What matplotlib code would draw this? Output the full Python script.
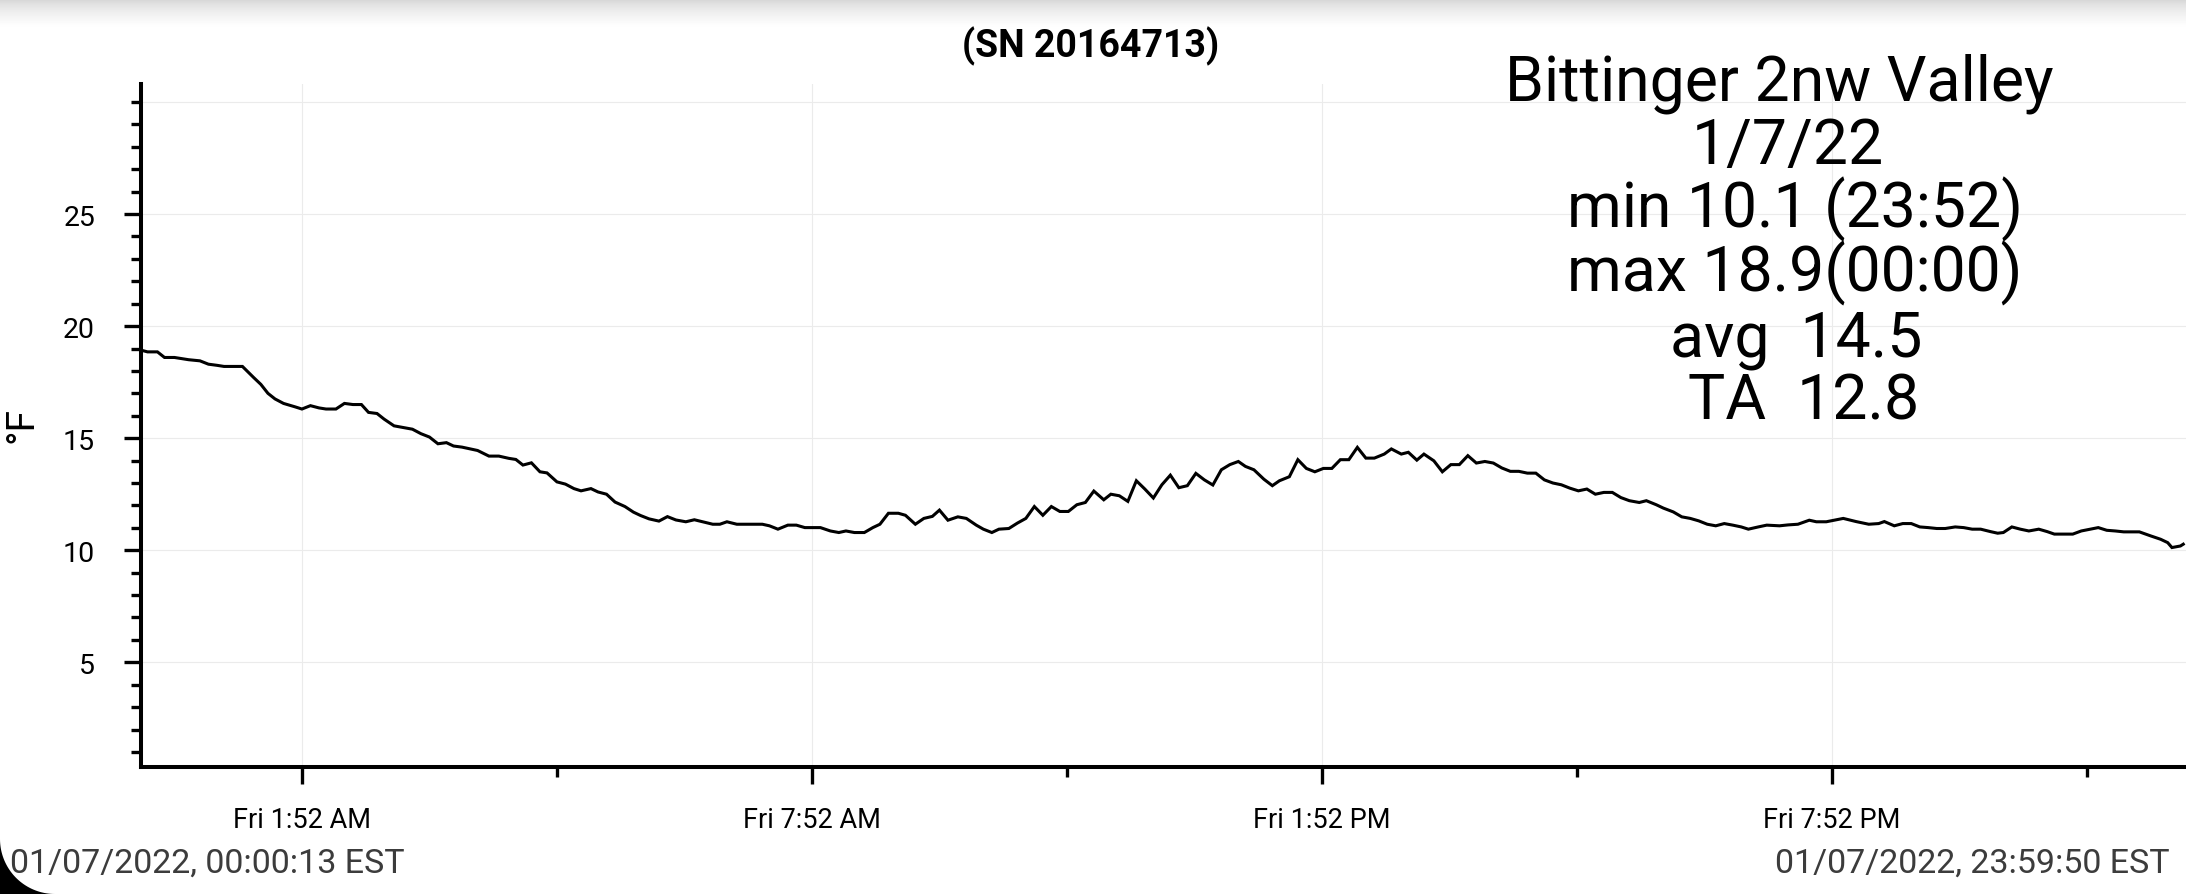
import numpy as np
import matplotlib
matplotlib.use("Agg")
import matplotlib.pyplot as plt
from matplotlib.patches import Polygon
from matplotlib.ticker import FixedLocator, NullFormatter

plt.rcParams['font.family'] = ['Roboto', 'DejaVu Sans']

# minutes after midnight, 01/07/2022, and temperature in deg F
minutes = [0, 3, 10, 15, 22, 32, 40, 46, 52, 57, 70, 78, 83, 88, 93, 99, 107, 112,
           118, 124, 129, 136, 142, 148, 154, 159, 165, 170, 177, 190, 196, 202, 208,
           214, 219, 225, 236, 244, 251, 258, 263, 268, 274, 280, 285, 292, 298, 304,
           309, 316, 321, 327, 333, 340, 346, 351, 357, 364, 370, 376, 383, 389, 395,
           402, 407, 412, 419, 437, 442, 448, 455, 461, 467, 478, 485, 491, 496, 502,
           509, 515, 520, 526, 533, 538, 545, 551, 557, 562, 568, 575, 581, 588, 593,
           599, 604, 611, 617, 623, 629, 635, 641, 647, 653, 659, 665, 671, 678, 683,
           689, 695, 701, 707, 713, 719, 725, 731, 737, 743, 749, 755, 761, 767, 773,
           778, 784, 791, 797, 802, 809, 815, 821, 827, 833, 839, 845, 851, 857, 863,
           869, 876, 881, 888, 893, 899, 904, 911, 917, 923, 929, 935, 941, 947, 953,
           959, 965, 971, 977, 983, 989, 995, 1001, 1007, 1013, 1019, 1025, 1031, 1037,
           1043, 1049, 1056, 1061, 1068, 1073, 1080, 1086, 1092, 1098, 1104, 1110, 1116,
           1122, 1128, 1133, 1140, 1146, 1155, 1161, 1168, 1176, 1181, 1188, 1200, 1209,
           1218, 1225, 1229, 1236, 1242, 1248, 1254, 1260, 1266, 1272, 1279, 1285, 1291,
           1297, 1304, 1309, 1313, 1319, 1325, 1331, 1338, 1344, 1349, 1362, 1368, 1380,
           1386, 1392, 1398, 1409, 1417, 1424, 1429, 1432, 1438, 1440]
temps = [18.9, 18.85, 18.85, 18.6, 18.6, 18.5, 18.45, 18.3, 18.25, 18.2, 18.2, 17.7, 17.4,
         17.0, 16.75, 16.55, 16.4, 16.3, 16.45, 16.35, 16.3, 16.3, 16.55, 16.5, 16.5, 16.15,
         16.1, 15.85, 15.55, 15.4, 15.2, 15.05, 14.75, 14.8, 14.65, 14.6, 14.45, 14.2, 14.2,
         14.1, 14.05, 13.8, 13.9, 13.5, 13.45, 13.05, 12.95, 12.75, 12.65, 12.75, 12.6, 12.5,
         12.15, 11.95, 11.7, 11.55, 11.4, 11.3, 11.5, 11.35, 11.27, 11.36, 11.27, 11.16,
         11.16, 11.27, 11.16, 11.16, 11.09, 10.94, 11.12, 11.12, 11.01, 11.01, 10.86, 10.79,
         10.86, 10.79, 10.79, 11.01, 11.16, 11.65, 11.65, 11.56, 11.16, 11.42, 11.51, 11.79,
         11.34, 11.49, 11.42, 11.12, 10.94, 10.79, 10.94, 10.97, 11.21, 11.42, 11.95, 11.56,
         11.95, 11.73, 11.73, 12.03, 12.13, 12.64, 12.25, 12.5, 12.43, 12.18, 13.1, 12.73,
         12.33, 12.92, 13.35, 12.79, 12.88, 13.43, 13.14, 12.91, 13.59, 13.82, 13.96, 13.74,
         13.59, 13.17, 12.88, 13.1, 13.28, 14.04, 13.65, 13.5, 13.65, 13.65, 14.04, 14.04,
         14.59, 14.11, 14.11, 14.29, 14.52, 14.29, 14.37, 14.02, 14.29, 13.99, 13.5, 13.82,
         13.82, 14.22, 13.89, 13.96, 13.89, 13.67, 13.52, 13.52, 13.44, 13.44, 13.14, 13.0,
         12.92, 12.77, 12.65, 12.73, 12.5, 12.58, 12.58, 12.35, 12.21, 12.13, 12.21, 12.03,
         11.88, 11.71, 11.49, 11.42, 11.31, 11.16, 11.09, 11.19, 11.12, 11.04, 10.94, 11.04,
         11.12, 11.09, 11.13, 11.16, 11.34, 11.27, 11.27, 11.42, 11.28, 11.16, 11.19, 11.28,
         11.09, 11.19, 11.19, 11.04, 11.01, 10.97, 10.97, 11.04, 11.01, 10.94, 10.94, 10.83,
         10.76, 10.79, 11.04, 10.94, 10.86, 10.94, 10.83, 10.72, 10.72, 10.86, 11.01, 10.89,
         10.86, 10.82, 10.82, 10.64, 10.49, 10.34, 10.12, 10.19, 10.27]

major_x = [112, 472, 832, 1192]
major_x_labels = ['Fri 1:52 AM', 'Fri 7:52 AM', 'Fri 1:52 PM', 'Fri 7:52 PM']
minor_x = [292, 652, 1012, 1372]

title = '(SN 20164713)'
info_lines = ['Bittinger 2nw Valley', '1/7/22', 'min 10.1 (23:52)',
              'max 18.9(00:00)', 'avg  14.5', 'TA  12.8']
start_stamp = '01/07/2022, 00:00:13 EST'
end_stamp = '01/07/2022, 23:59:50 EST'

W, H = 2186, 895
fig = plt.figure(figsize=(W / 100, H / 100), dpi=100)
fig.patch.set_facecolor('white')

# plot area runs off the right edge of the screenshot
ax = fig.add_axes([141 / W, 1 - 768 / H, (2200 - 141) / W, (768 - 85) / H])
ax.plot(minutes, temps, color='black', lw=2.2, solid_joinstyle='miter')
ax.set_xlim(-1.6, -1.6 + (2200 - 141) / (85 / 60))
ax.set_ylim(0.33, 30.8)

ax.xaxis.set_major_locator(FixedLocator(major_x))
ax.set_xticklabels(major_x_labels)
ax.xaxis.set_minor_locator(FixedLocator(minor_x))
ax.yaxis.set_major_locator(FixedLocator([5, 10, 15, 20, 25]))
ax.yaxis.set_minor_locator(FixedLocator([v for v in range(1, 31) if v % 5 or v == 30]))
ax.yaxis.set_minor_formatter(NullFormatter())

for s in ['top', 'right']:
    ax.spines[s].set_visible(False)
for s in ['left', 'bottom']:
    ax.spines[s].set_linewidth(2.9)

ax.tick_params(axis='both', which='major', length=12, width=2.4, color='black')
ax.tick_params(axis='both', which='minor', length=7, width=2.4, color='black')
ax.tick_params(axis='y', which='major', labelsize=20.5, pad=21)
ax.tick_params(axis='x', which='major', labelsize=19.5, pad=16)

ax.grid(True, which='major', color='#ebebeb', lw=0.8)
ax.axhline(30, color='#ebebeb', lw=0.8, zorder=0)
ax.set_axisbelow(True)

fig.text(22 / W, 1 - 425 / H, '°F', rotation=90, ha='center', va='center', fontsize=28)
fig.text(1091 / W, 1 - 57 / H, title, ha='center', va='baseline', fontsize=27,
         fontweight='bold')

centers = [1779, 1788, 1795, 1795, 1796, 1804]
for i, line in enumerate(info_lines):
    fig.text(centers[i] / W, 1 - (100 + 64 * i) / H, line, ha='center',
             va='baseline', fontsize=45)

fig.text(10 / W, 1 - 873 / H, start_stamp, ha='left', va='baseline', fontsize=24.5,
         color='#3c3c3c')
fig.text(2170 / W, 1 - 873 / H, end_stamp, ha='right', va='baseline', fontsize=24.5,
         color='#3c3c3c')

# screenshot details: shadow at top, rounded screen corner bottom left
top = fig.add_axes([0, 1 - 28 / H, 1, 28 / H])
grad = np.linspace(0, 1, 50) ** 0.6
top.imshow(np.tile(grad[:, None], (1, 10)), cmap='gray', vmin=-4.5, vmax=1,
           aspect='auto', extent=[0, 1, 0, 1])
top.set_axis_off()

r = 55
ang = np.linspace(np.pi, 1.5 * np.pi, 40)
corner = [(0, 0)] + [((r + r * np.cos(a)) / W, (r + r * np.sin(a)) / H) for a in ang]
fig.patches.append(Polygon(corner, closed=True, transform=fig.transFigure,
                           facecolor='black', edgecolor='none'))

fig.savefig('out.png', dpi=100)
